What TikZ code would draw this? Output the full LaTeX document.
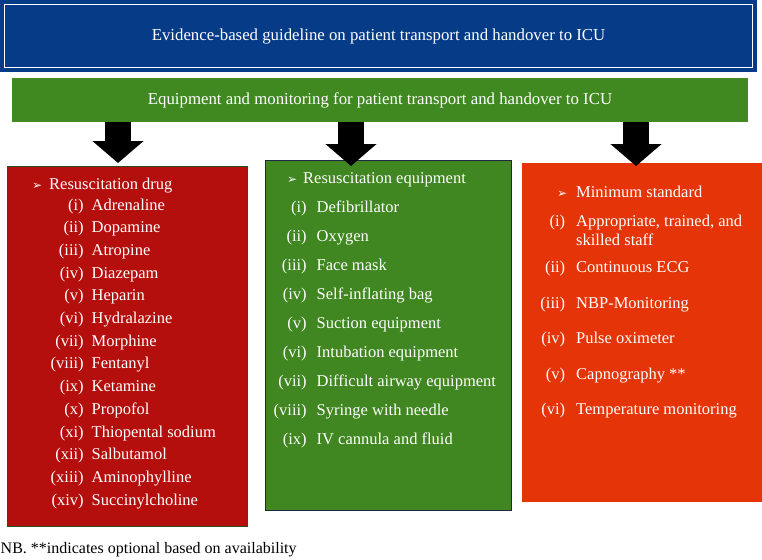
\documentclass[tikz,border=0pt]{standalone}
\usepackage{xcolor}
\usepackage{fontspec}
\setmainfont{Liberation Serif}
\newfontfamily\dingfont{DejaVu Sans}
\usetikzlibrary{arrows.meta, positioning}

\definecolor{guideblue}{RGB}{6,60,135}
\definecolor{barg}{RGB}{64,136,32}
\definecolor{drugred}{RGB}{181,15,13}
\definecolor{equipgreen}{RGB}{64,134,33}
\definecolor{minorange}{RGB}{228,52,8}
\definecolor{edgegreen}{RGB}{40,80,30}
\definecolor{edgenavy}{RGB}{30,40,70}

\newcommand{\pointer}{{\dingfont\fontsize{12}{12}\selectfont ➢}}

\begin{document}
\begin{tikzpicture}[x=1pt, y=-1pt,
  banner/.style={rectangle, text=white, inner sep=0pt, font=\fontsize{16.8}{20}\selectfont},
  listbox/.style={rectangle, anchor=north west, inner sep=0pt},
  item/.style={anchor=base west, inner sep=0pt, text=white, font=\fontsize{16.5}{19}\selectfont},
  bigarrow/.style={black, line width=26pt, -{Triangle[width=50pt, length=22pt]}}
]
\useasboundingbox (0,0) rectangle (762,559);

% Title and subtitle
\node (guideline) [banner, fill=guideblue, minimum width=757pt, minimum height=72pt] at (378.5,36) {Evidence-based guideline on patient transport and handover to ICU};
\draw [white, line width=1.2pt] ([shift={(5pt,-5pt)}]guideline.north west) rectangle ([shift={(-5pt,5pt)}]guideline.south east);
\node (monitorbar) [banner, fill=barg, minimum width=736pt, minimum height=44pt] at (380,100) {Equipment and monitoring for patient transport and handover to ICU};

% Three boxes
\node (drugbox) [listbox, fill=drugred, draw=edgegreen, line width=0.8pt, minimum width=240pt, minimum height=360pt] at (6.5,165.5) {};
\node (equipbox) [listbox, fill=equipgreen, draw=edgenavy, line width=1.3pt, minimum width=246pt, minimum height=350pt] at (264.5,159.5) {};
\node (minbox) [listbox, fill=minorange, minimum width=241pt, minimum height=339pt] at (521.5,163) {};

% Arrow tips
\coordinate (drugtip) at (118,163);
\coordinate (equiptip) at (351,166);
\coordinate (mintip) at (636,166);
\draw [bigarrow] (monitorbar.south -| drugtip) -- (drugtip);
\draw [bigarrow] (monitorbar.south -| equiptip) -- (equiptip);
\draw [bigarrow] (monitorbar.south -| mintip) -- (mintip);

% Resuscitation drug
\node (drughead) [item] at (49,189.5) {\llap{\pointer\hspace{7pt}}Resuscitation drug};
\node (drug1) [item] at (91.5,210) {\llap{(i)\hspace{8pt}}Adrenaline};
\node (drug2) [item] at (91.5,232.7) {\llap{(ii)\hspace{8pt}}Dopamine};
\node (drug3) [item] at (91.5,255.4) {\llap{(iii)\hspace{8pt}}Atropine};
\node (drug4) [item] at (91.5,278.1) {\llap{(iv)\hspace{8pt}}Diazepam};
\node (drug5) [item] at (91.5,300.8) {\llap{(v)\hspace{8pt}}Heparin};
\node (drug6) [item] at (91.5,323.5) {\llap{(vi)\hspace{8pt}}Hydralazine};
\node (drug7) [item] at (91.5,346.2) {\llap{(vii)\hspace{8pt}}Morphine};
\node (drug8) [item] at (91.5,368.9) {\llap{(viii)\hspace{8pt}}Fentanyl};
\node (drug9) [item] at (91.5,391.6) {\llap{(ix)\hspace{8pt}}Ketamine};
\node (drug10) [item] at (91.5,414.3) {\llap{(x)\hspace{8pt}}Propofol};
\node (drug11) [item] at (91.5,437) {\llap{(xi)\hspace{8pt}}Thiopental sodium};
\node (drug12) [item] at (91.5,459.7) {\llap{(xii)\hspace{8pt}}Salbutamol};
\node (drug13) [item] at (91.5,482.4) {\llap{(xiii)\hspace{8pt}}Aminophylline};
\node (drug14) [item] at (91.5,505.1) {\llap{(xiv)\hspace{8pt}}Succinylcholine};

% Resuscitation equipment
\node (equiphead) [item] at (303,183) {\llap{\pointer\hspace{6pt}}Resuscitation equipment};
\node (equip1) [item] at (316.5,212.3) {\llap{(i)\hspace{10pt}}Defibrillator};
\node (equip2) [item] at (316.5,241.3) {\llap{(ii)\hspace{10pt}}Oxygen};
\node (equip3) [item] at (316.5,270.3) {\llap{(iii)\hspace{10pt}}Face mask};
\node (equip4) [item] at (316.5,299.3) {\llap{(iv)\hspace{10pt}}Self-inflating bag};
\node (equip5) [item] at (316.5,328.3) {\llap{(v)\hspace{10pt}}Suction equipment};
\node (equip6) [item] at (316.5,357.3) {\llap{(vi)\hspace{10pt}}Intubation equipment};
\node (equip7) [item] at (316.5,386.3) {\llap{(vii)\hspace{10pt}}Difficult airway equipment};
\node (equip8) [item] at (316.5,415.3) {\llap{(viii)\hspace{10pt}}Syringe with needle};
\node (equip9) [item] at (316.5,444.3) {\llap{(ix)\hspace{10pt}}IV cannula and fluid};

% Minimum standard
\node (minhead) [item] at (576,197.3) {\llap{\pointer\hspace{9pt}}Minimum standard};
\node (min1) [item] at (576,226) {\llap{(i)\hspace{11pt}}Appropriate, trained, and};
\node (min1b) [item] at (576,245.7) {skilled staff};
\node (min2) [item] at (576,272.3) {\llap{(ii)\hspace{11pt}}Continuous ECG};
\node (min3) [item] at (576,308.3) {\llap{(iii)\hspace{11pt}}NBP-Monitoring};
\node (min4) [item] at (576,343.3) {\llap{(iv)\hspace{11pt}}Pulse oximeter};
\node (min5) [item] at (576,379) {\llap{(v)\hspace{11pt}}Capnography **};
\node (min6) [item] at (576,414.3) {\llap{(vi)\hspace{11pt}}Temperature monitoring};

% Footnote
\node (footnote) [item, text=black, font=\fontsize{16}{19}\selectfont] at (0.5,553.5) {NB. **indicates optional based on availability};

\end{tikzpicture}
\end{document}
